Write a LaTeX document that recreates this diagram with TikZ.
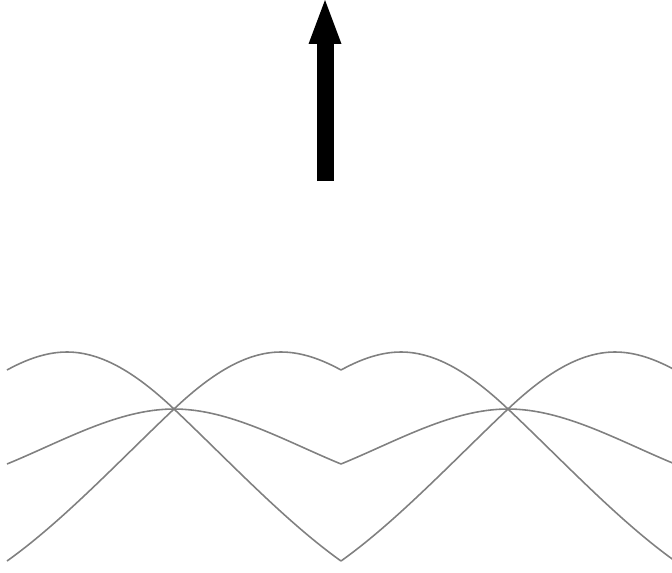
\documentclass[tikz,border=0pt]{standalone}
\usepackage{tikz}
\usetikzlibrary{arrows.meta}

\begin{document}
\begin{tikzpicture}[x=0.02cm, y=-0.02cm,
	band/.style={draw=black!50, line width=0.9pt}
	]
	\clip (0,0) rectangle (672,572);

	\coordinate (tail) at (325,181);
	\coordinate (tip) at (325,0);
	\draw[line width=0.34cm, -{Triangle[width=0.66cm, length=0.88cm, line width=0pt]}] (tail) to (tip);

	% branches around each crossing, mirrored left/right
	\foreach \s in {174,508} {
	\foreach \m in {1,-1} {
	\begin{scope}[shift={(\s,0)}, xscale=\m]
	\draw[band] (-167,370) .. controls (-147,359) and (-127,352) .. (-107,352)
		.. controls (-71,352) and (-36,375) .. (0,409)
		.. controls (56,462) and (111,521) .. (167,561);
	\draw[band] (-167,464) .. controls (-111,441) and (-56,409) .. (0,409);
	\end{scope}
	}
	}
\end{tikzpicture}
\end{document}
